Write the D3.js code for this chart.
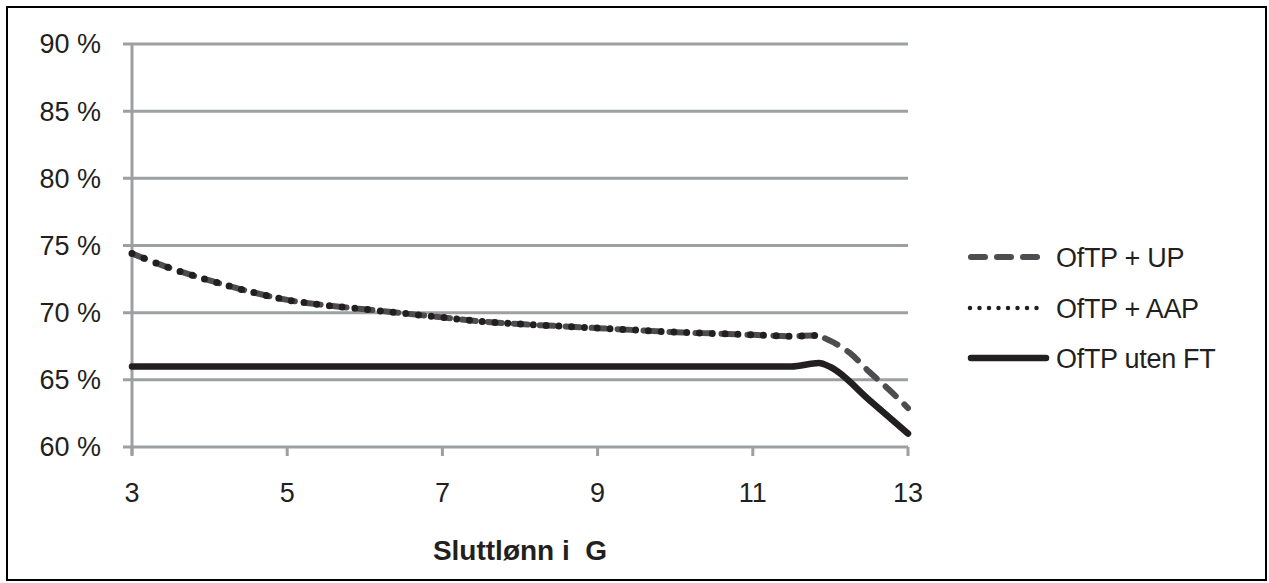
<!DOCTYPE html>
<html><head><meta charset="utf-8">
<script src="https://cdn.jsdelivr.net/npm/d3@7"></script>
<style>
html,body{margin:0;padding:0;background:#fff;}
svg text{font-family:"Liberation Sans",Arial,sans-serif;fill:#231f20;}
</style></head>
<body><svg id="c" width="1269" height="583"></svg>
<script>
const xValues = [3,3.5,4,4.5,5,5.5,6,6.5,7,7.5,8,8.5,9,9.5,10,10.5,11,11.5,11.8,12,12.25,12.5,12.75,13];
const upValues = [74.4,73.3,72.4,71.6,70.95,70.55,70.25,69.95,69.65,69.35,69.15,69.0,68.85,68.7,68.55,68.45,68.35,68.25,68.3,67.9,67.0,65.6,64.3,62.9];
const aapX = [3,3.5,4,4.5,5,5.5,6,6.5,7,7.5,8,8.5,9,9.5,10,10.5,11,11.5,11.8];
const aapValues = [74.4,73.3,72.4,71.6,70.95,70.55,70.25,69.95,69.65,69.35,69.15,69.0,68.85,68.7,68.55,68.45,68.35,68.25,68.3];
const utenX = [3,4,5,6,7,8,9,10,11,11.5,11.85,12,12.5,13];
const utenValues = [66,66,66,66,66,66,66,66,66,66,66.25,65.95,63.5,61.0];
const xTicks = [3,5,7,9,11,13];
const yTicks = [60,65,70,75,80,85,90];
const seriesNames = ["OfTP + UP","OfTP + AAP","OfTP uten FT"];
const xTitle = "Sluttlønn i\u00a0 G";

const svg = d3.select("#c");
svg.append("rect").attr("x",7).attr("y",7).attr("width",1259).attr("height",573)
  .attr("fill","none").attr("stroke","#000").attr("stroke-width",2);

const x = d3.scaleLinear().domain([3,13]).range([132,908]);
const y = d3.scaleLinear().domain([60,90]).range([447,44]);
const grid = "#9d9fa2";

svg.append("g").selectAll("line").data(yTicks).join("line")
  .attr("x1",123).attr("x2",908).attr("y1",d=>y(d)).attr("y2",d=>y(d))
  .attr("stroke",grid).attr("stroke-width",3);
svg.append("line").attr("x1",132).attr("x2",132).attr("y1",y(90)).attr("y2",455)
  .attr("stroke",grid).attr("stroke-width",3);
svg.append("g").selectAll("line").data(xTicks).join("line")
  .attr("x1",d=>x(d)).attr("x2",d=>x(d)).attr("y1",447).attr("y2",456)
  .attr("stroke",grid).attr("stroke-width",3);

svg.append("g").selectAll("text").data(yTicks).join("text")
  .attr("x",101).attr("y",d=>y(d)).attr("dy","0.35em").attr("text-anchor","end")
  .attr("font-size",27).text(d=>d+" %");
svg.append("g").selectAll("text").data(xTicks).join("text")
  .attr("x",d=>x(d)).attr("y",502).attr("text-anchor","middle")
  .attr("font-size",27).text(d=>d);
svg.append("text").attr("x",520).attr("y",560).attr("text-anchor","middle")
  .attr("font-size",28).attr("font-weight","bold").attr("xml:space","preserve").text(xTitle);

const line = d3.line().x(d=>x(d[0])).y(d=>y(d[1])).curve(d3.curveMonotoneX);
const up = xValues.map((v,i)=>[v,upValues[i]]);
const aap = aapX.map((v,i)=>[v,aapValues[i]]);
const uten = utenX.map((v,i)=>[v,utenValues[i]]);

svg.append("path").attr("d",line(uten)).attr("fill","none").attr("stroke","#231f20")
  .attr("stroke-width",6.5).attr("stroke-linecap","round");
svg.append("path").attr("d",line(up)).attr("fill","none").attr("stroke","#4d4d4f")
  .attr("stroke-width",6).attr("stroke-linecap","round").attr("stroke-dasharray","14 12");
svg.append("path").attr("d",line(aap)).attr("fill","none").attr("stroke","#231f20")
  .attr("stroke-width",7).attr("stroke-linecap","round").attr("stroke-dasharray","0 12.8");

const ly = [257,308,358];
const lg = svg.append("g");
lg.append("line").attr("x1",971).attr("x2",1046).attr("y1",ly[0]).attr("y2",ly[0])
  .attr("stroke","#4d4d4f").attr("stroke-width",6).attr("stroke-linecap","round").attr("stroke-dasharray","14 12");
lg.append("line").attr("x1",970).attr("x2",1046).attr("y1",ly[1]).attr("y2",ly[1])
  .attr("stroke","#231f20").attr("stroke-width",4.5).attr("stroke-linecap","round").attr("stroke-dasharray","0 9.5");
lg.append("line").attr("x1",971).attr("x2",1046).attr("y1",ly[2]).attr("y2",ly[2])
  .attr("stroke","#231f20").attr("stroke-width",6.5).attr("stroke-linecap","round");
lg.selectAll("text").data(seriesNames).join("text")
  .attr("x",1056).attr("y",(d,i)=>ly[i]).attr("dy","0.36em").attr("font-size",27)
  .attr("letter-spacing",-0.3).text(d=>d);
</script></body></html>
